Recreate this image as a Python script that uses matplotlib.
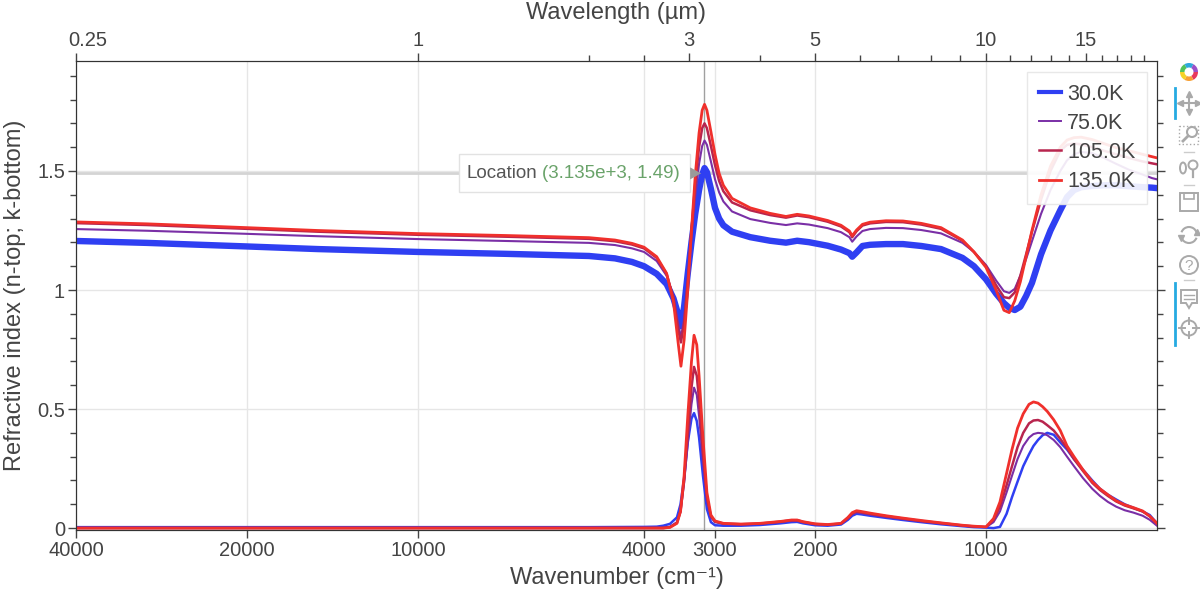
import matplotlib
matplotlib.use("Agg")
import matplotlib.pyplot as plt
import matplotlib.ticker as mticker
import matplotlib.transforms as mtransforms
from matplotlib.lines import Line2D
from matplotlib.patches import Rectangle, Circle, Wedge, Ellipse, Arc, Polygon

plt.rcParams['font.family'] = ['Liberation Sans', 'DejaVu Sans']

# temperatures and colours
temps = ['30.0K', '75.0K', '105.0K', '135.0K']
colors = ['#2f3ff2', '#7a2fa6', '#b8254e', '#f0302c']

# wavenumber grid for n (cm^-1)
wn_n = [40000, 30000, 20000, 15000, 10000, 7000, 5000, 4500, 4200, 4000,
        3800, 3650, 3550, 3480, 3444, 3400, 3350, 3300, 3250, 3200,
        3160, 3130, 3100, 3050, 3000, 2950, 2900, 2800, 2600, 2400,
        2250, 2150, 2050, 1900, 1800, 1740, 1720, 1690, 1650, 1600,
        1500, 1400, 1300, 1200, 1100, 1050, 1000, 960, 930, 910,
        890, 870, 850, 830, 800, 770, 740, 720, 700, 680,
        650, 620, 590, 560, 530, 510, 500]

n_30 = [1.206, 1.198, 1.183, 1.172, 1.160, 1.152, 1.143, 1.133, 1.118, 1.100,
        1.068, 1.025, 0.965, 0.895, 0.848, 0.930, 1.070, 1.200, 1.320, 1.420,
        1.485, 1.512, 1.495, 1.425, 1.345, 1.300, 1.272, 1.245, 1.222, 1.207,
        1.199, 1.207, 1.201, 1.186, 1.170, 1.155, 1.140, 1.158, 1.185, 1.190,
        1.193, 1.193, 1.185, 1.172, 1.135, 1.100, 1.045, 0.985, 0.945, 0.925,
        0.916, 0.930, 0.975, 1.030, 1.150, 1.250, 1.335, 1.390, 1.420, 1.432,
        1.437, 1.440, 1.440, 1.436, 1.432, 1.430, 1.428]

n_75 = [1.256, 1.249, 1.236, 1.226, 1.214, 1.206, 1.198, 1.189, 1.175, 1.160,
        1.122, 1.060, 0.975, 0.855, 0.800, 0.880, 1.040, 1.220, 1.390, 1.530,
        1.605, 1.628, 1.610, 1.540, 1.465, 1.410, 1.372, 1.330, 1.298, 1.282,
        1.273, 1.280, 1.275, 1.260, 1.243, 1.222, 1.203, 1.225, 1.248, 1.256,
        1.261, 1.260, 1.252, 1.238, 1.198, 1.160, 1.105, 1.040, 0.995, 0.988,
        1.005, 1.060, 1.130, 1.205, 1.320, 1.420, 1.500, 1.545, 1.570, 1.580,
        1.575, 1.555, 1.530, 1.505, 1.485, 1.470, 1.465]

n_105 = [1.281, 1.273, 1.257, 1.245, 1.232, 1.224, 1.215, 1.205, 1.191, 1.175,
         1.135, 1.068, 0.965, 0.830, 0.780, 0.860, 1.040, 1.250, 1.450, 1.600,
         1.680, 1.700, 1.680, 1.605, 1.525, 1.458, 1.415, 1.368, 1.335, 1.315,
         1.304, 1.313, 1.306, 1.287, 1.267, 1.243, 1.222, 1.247, 1.271, 1.280,
         1.286, 1.285, 1.275, 1.257, 1.207, 1.160, 1.100, 1.020, 0.970, 0.966,
         0.990, 1.060, 1.150, 1.245, 1.380, 1.500, 1.585, 1.610, 1.615, 1.612,
         1.600, 1.585, 1.570, 1.555, 1.540, 1.532, 1.528]

n_135 = [1.286, 1.278, 1.262, 1.250, 1.237, 1.229, 1.220, 1.210, 1.196, 1.180,
         1.140, 1.070, 0.950, 0.770, 0.680, 0.790, 1.000, 1.250, 1.480, 1.660,
         1.755, 1.780, 1.755, 1.665, 1.570, 1.490, 1.440, 1.385, 1.345, 1.322,
         1.309, 1.318, 1.311, 1.292, 1.272, 1.248, 1.228, 1.252, 1.276, 1.285,
         1.291, 1.290, 1.280, 1.262, 1.210, 1.160, 1.095, 1.000, 0.915, 0.905,
         0.955, 1.035, 1.140, 1.250, 1.400, 1.520, 1.600, 1.630, 1.640, 1.642,
         1.632, 1.615, 1.598, 1.585, 1.570, 1.560, 1.555]

# wavenumber grid for k (cm^-1)
wn_k = [40000, 10000, 5000, 4000, 3800, 3700, 3600, 3500, 3450, 3400,
        3350, 3300, 3266, 3230, 3200, 3150, 3100, 3050, 3000, 2900,
        2700, 2500, 2300, 2200, 2150, 2100, 2000, 1900, 1800, 1750,
        1720, 1690, 1660, 1600, 1500, 1400, 1300, 1200, 1100, 1050,
        1000, 970, 945, 920, 900, 880, 860, 840, 825, 810,
        795, 780, 760, 740, 720, 700, 675, 650, 630, 610,
        590, 570, 550, 530, 515, 500]

k_30 = [0.004, 0.004, 0.004, 0.005, 0.006, 0.010, 0.018, 0.045, 0.100, 0.210,
        0.360, 0.460, 0.483, 0.450, 0.380, 0.220, 0.080, 0.025, 0.012, 0.010,
        0.010, 0.013, 0.020, 0.025, 0.026, 0.020, 0.012, 0.010, 0.015, 0.035,
        0.052, 0.060, 0.058, 0.052, 0.043, 0.034, 0.025, 0.016, 0.008, 0.004,
        0.002, 0.000, 0.005, 0.060, 0.130, 0.195, 0.260, 0.310, 0.345, 0.370,
        0.390, 0.400, 0.392, 0.360, 0.330, 0.290, 0.245, 0.200, 0.165, 0.140,
        0.120, 0.100, 0.085, 0.070, 0.055, 0.020]

k_75 = [0.002, 0.002, 0.002, 0.002, 0.002, 0.003, 0.006, 0.025, 0.070, 0.190,
        0.360, 0.520, 0.590, 0.560, 0.470, 0.280, 0.120, 0.045, 0.025, 0.017,
        0.015, 0.018, 0.025, 0.031, 0.031, 0.024, 0.016, 0.013, 0.018, 0.040,
        0.058, 0.066, 0.063, 0.057, 0.047, 0.038, 0.028, 0.019, 0.010, 0.006,
        0.004, 0.025, 0.070, 0.150, 0.220, 0.290, 0.345, 0.380, 0.395, 0.400,
        0.398, 0.390, 0.370, 0.340, 0.300, 0.260, 0.210, 0.165, 0.135, 0.110,
        0.090, 0.075, 0.065, 0.052, 0.035, 0.010]

k_105 = [0.0, 0.0, 0.0, 0.0, 0.0, 0.0, 0.004, 0.022, 0.070, 0.200,
         0.400, 0.590, 0.677, 0.640, 0.540, 0.320, 0.130, 0.050, 0.028, 0.019,
         0.016, 0.019, 0.027, 0.033, 0.033, 0.026, 0.017, 0.014, 0.019, 0.043,
         0.062, 0.070, 0.067, 0.060, 0.050, 0.040, 0.030, 0.021, 0.011, 0.007,
         0.005, 0.035, 0.090, 0.180, 0.260, 0.340, 0.400, 0.440, 0.452, 0.454,
         0.447, 0.432, 0.410, 0.375, 0.335, 0.290, 0.240, 0.190, 0.160, 0.135,
         0.112, 0.095, 0.083, 0.070, 0.050, 0.020]

k_135 = [0.0, 0.0, 0.0, 0.0, 0.0, 0.0, 0.003, 0.020, 0.070, 0.220,
         0.470, 0.700, 0.810, 0.770, 0.640, 0.380, 0.150, 0.055, 0.030, 0.020,
         0.017, 0.020, 0.028, 0.034, 0.034, 0.027, 0.018, 0.015, 0.020, 0.045,
         0.065, 0.073, 0.070, 0.063, 0.052, 0.042, 0.032, 0.022, 0.012, 0.008,
         0.005, 0.040, 0.110, 0.230, 0.330, 0.420, 0.480, 0.520, 0.530, 0.525,
         0.510, 0.490, 0.455, 0.410, 0.345, 0.300, 0.245, 0.195, 0.165, 0.140,
         0.115, 0.098, 0.086, 0.072, 0.050, 0.020]

n_all = [n_30, n_75, n_105, n_135]
k_all = [k_30, k_75, k_105, k_135]
lw_n = [4.6, 1.5, 1.8, 2.0]
lw_k = [1.8, 1.5, 1.8, 2.0]
lw_leg = [3.0, 1.4, 1.8, 2.0]

# axis ticks
wn_ticks = [40000, 20000, 10000, 4000, 3000, 2000, 1000]
wl_ticks = [0.25, 1, 3, 5, 10, 15]
wl_minor = [2, 2.5, 4, 6, 7, 8, 9, 11, 12, 13, 14, 16, 17, 18, 19]

# hover readout
cursor_wn = 3135
cursor_val = 1.49

txt = '#444444'
fig = plt.figure(figsize=(12, 5.98), dpi=100)
ax = fig.add_axes([76 / 1200, 1 - 530 / 598, (1157 - 76) / 1200, (530 - 61) / 598])
ax.set_xscale('log')
ax.set_xlim(40000, 500)
ax.set_ylim(-0.008, 1.962)

for i in range(4):
    ax.plot(wn_n, n_all[i], color=colors[i], lw=lw_n[i], zorder=3 + i)
    ax.plot(wn_k, k_all[i], color=colors[i], lw=lw_k[i], zorder=3 + i)

# crosshair
ax.axvline(cursor_wn, color='#a0a0a0', lw=1, zorder=2)
ax.axhline(cursor_val, color='#d4d4d4', lw=2, zorder=2)

ax.grid(True, which='major', color='#e6e6e6', lw=1)
ax.set_axisbelow(True)

ax.set_xticks(wn_ticks)
ax.set_xticklabels([str(t) for t in wn_ticks])
ax.xaxis.set_minor_locator(mticker.NullLocator())
ax.set_yticks([0, 0.5, 1, 1.5])
ax.set_yticklabels(['0', '0.5', '1', '1.5'])
ax.yaxis.set_minor_locator(mticker.MultipleLocator(0.1))
ax.tick_params(which='major', direction='out', length=6, width=1, color=txt,
               labelsize=14.5, labelcolor=txt, pad=2)
ax.tick_params(which='minor', direction='out', length=4, width=1, color=txt)
ax.tick_params(axis='y', which='both', right=True, labelright=False)
ax.tick_params(axis='x', which='both', top=False)
for s in ax.spines.values():
    s.set_color('#333333')

ax.set_xlabel('Wavenumber (cm⁻¹)', fontsize=17, color=txt)
ax.xaxis.label.set_va('center')
ax.xaxis.set_label_coords(0.5, (530 - 578) / 469)
ax.set_ylabel('Refractive index (n-top; k-bottom)', fontsize=17, color=txt)
ax.yaxis.label.set_va('center')
ax.yaxis.set_label_coords((15 - 76) / 1081, 0.5)

top = ax.twiny()
top.set_xscale('log')
top.set_xlim(ax.get_xlim())
top.set_xticks([1e4 / l for l in wl_ticks])
top.set_xticklabels([str(l) for l in wl_ticks])
top.set_xticks([1e4 / l for l in wl_minor], minor=True)
top.xaxis.set_minor_formatter(mticker.NullFormatter())
top.tick_params(which='major', direction='out', length=6, width=1, color=txt,
                labelsize=14.5, labelcolor=txt, pad=2)
top.tick_params(which='minor', direction='out', length=4, width=1, color=txt)
top.set_xlabel('Wavelength (µm)', fontsize=17, color=txt)
top.xaxis.label.set_va('center')
top.xaxis.set_label_coords(0.5, (530 - 13) / 469)
for s in top.spines.values():
    s.set_color('#333333')
# first top label sits a little right of its tick
first = top.get_xticklabels()[0]
first.set_transform(first.get_transform() +
                    mtransforms.ScaledTranslation(12 / 100, 0, fig.dpi_scale_trans))

handles = [Line2D([], [], color=colors[i], lw=lw_leg[i]) for i in range(4)]
leg = ax.legend(handles, temps, loc='upper right', bbox_to_anchor=(0.991, 0.977),
                borderaxespad=0, fontsize=15.5, frameon=True, fancybox=False,
                framealpha=0.9, edgecolor='#e6e6e6', handlelength=1.0,
                handletextpad=0.3, labelspacing=0.38, borderpad=0.55)
leg.get_frame().set_linewidth(1)
for t in leg.get_texts():
    t.set_color(txt)
leg.set_zorder(20)

# overlay in pixel coordinates for tooltip and toolbar
ov = fig.add_axes([0, 0, 1, 1], zorder=10)
ov.set_xlim(0, 1200)
ov.set_ylim(598, 0)
ov.axis('off')

px, py = ax.transData.transform((cursor_wn, cursor_val))
py = 598 - py
ov.add_patch(Rectangle((px - 245, py - 19), 231, 38, fc='white', ec='#e2e2e2', lw=1))
ov.add_patch(Polygon([(px - 14, py - 6), (px - 3, py), (px - 14, py + 6)], fc='#9a9a9a', ec='none'))
ov.text(px - 238, py, 'Location', va='center', ha='left', fontsize=13.5, color='#555555')
ov.text(px - 162, py, '(%.3fe+3, %.2f)' % (cursor_wn / 1000, cursor_val),
        va='center', ha='left', fontsize=13.5, color='#6aa36a')

# toolbar
g = '#a9a9a9'
cx = 1189
logo_cols = ['#e8385d', '#f7a035', '#f5d327', '#52c35a', '#2fa7dc', '#9b4fc8']
for i, c in enumerate(logo_cols):
    ov.add_patch(Wedge((cx, 72), 9, i * 60, i * 60 + 60, width=4.5, fc=c, ec='none'))
ov.plot([1175, 1175], [88, 118], color='#26aae1', lw=2)
ov.plot([1175, 1175], [283, 345], color='#26aae1', lw=2)
# pan
ov.plot([cx - 9, cx + 9], [103, 103], color=g, lw=1.5)
ov.plot([cx, cx], [94, 112], color=g, lw=1.5)
for mx, my, m in [(cx - 9, 103, '<'), (cx + 9, 103, '>'), (cx, 94, '^'), (cx, 112, 'v')]:
    ov.plot(mx, my, marker=m, color=g, ms=5)
# box zoom
ov.add_patch(Rectangle((cx - 10, 126), 19, 18, fc='none', ec=g, lw=1, ls=':'))
ov.add_patch(Circle((cx + 3, 132), 5, fc='white', ec=g, lw=1.5))
ov.plot([cx - 1, cx - 6], [136, 141], color=g, lw=2)
# separators
for sy in [152, 185, 280]:
    ov.plot([cx - 5, cx + 5], [sy, sy], color='#cccccc', lw=1)
# wheel zoom
ov.add_patch(Ellipse((cx - 6, 168), 6, 11, fc='none', ec=g, lw=1.4))
ov.add_patch(Circle((cx + 4, 165), 4.5, fc='none', ec=g, lw=1.4))
ov.plot([cx + 4, cx + 4], [170, 177], color=g, lw=1.6)
# save
ov.add_patch(Rectangle((cx - 9, 193), 18, 18, fc='none', ec=g, lw=1.4))
ov.add_patch(Rectangle((cx - 5, 193), 10, 6, fc='none', ec=g, lw=1.2))
# reset
ov.add_patch(Arc((cx, 235), 16, 16, theta1=200, theta2=340, ec=g, lw=1.5))
ov.add_patch(Arc((cx, 235), 16, 16, theta1=20, theta2=160, ec=g, lw=1.5))
ov.plot(cx + 8, 232, marker='^', color=g, ms=4)
ov.plot(cx - 8, 238, marker='v', color=g, ms=4)
# help
ov.add_patch(Circle((cx, 265), 9, fc='none', ec=g, lw=1.4))
ov.text(cx, 265.5, '?', ha='center', va='center', fontsize=11, color=g)
# hover
ov.add_patch(Polygon([(cx - 8, 290), (cx + 8, 290), (cx + 8, 303), (cx + 3, 303),
                      (cx, 308), (cx - 3, 303), (cx - 8, 303)], closed=True,
                     fc='none', ec=g, lw=1.4))
ov.plot([cx - 5, cx + 5], [295, 295], color=g, lw=1)
ov.plot([cx - 5, cx + 5], [299, 299], color=g, lw=1)
# crosshair tool
ov.add_patch(Circle((cx, 328), 7.5, fc='none', ec=g, lw=1.4))
for dx, dy in [(0, -1), (0, 1), (-1, 0), (1, 0)]:
    ov.plot([cx + dx * 4, cx + dx * 10], [328 + dy * 4, 328 + dy * 10], color=g, lw=1.4)

fig.savefig('out.png', dpi=100)
